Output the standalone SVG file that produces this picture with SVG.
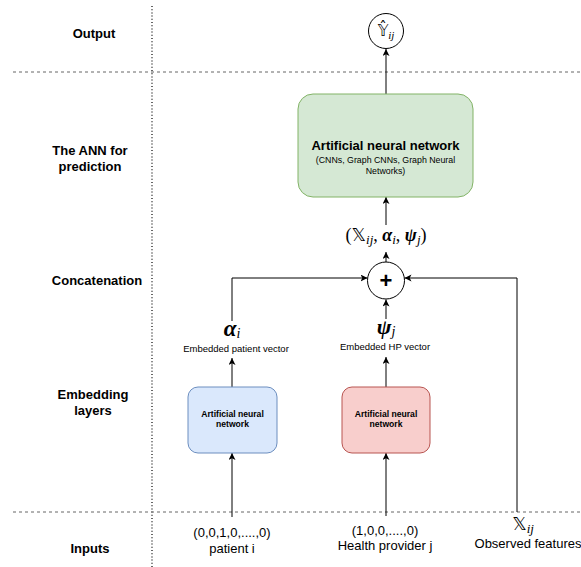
<svg xmlns="http://www.w3.org/2000/svg" width="581" height="567" viewBox="0 0 581 567">
<style>
  .lbl{font-family:"Liberation Sans",Arial,sans-serif;font-weight:bold;font-size:13px;fill:#000;text-anchor:middle}
  .txt{font-family:"Liberation Sans",Arial,sans-serif;fill:#000;text-anchor:middle}
  .math{font-family:"Liberation Serif","DejaVu Serif",serif;fill:#000;text-anchor:middle}
  .ds{font-family:"DejaVu Sans","DejaVu Serif",serif}
  .bi{font-weight:bold;font-style:italic}
  .it{font-style:italic}
  .conn{fill:none;stroke:#000;stroke-width:1}
  .grid-h{stroke:#666;stroke-width:1;stroke-dasharray:3 3}
  .grid-v{stroke:#000;stroke-width:1.2;stroke-dasharray:1 2.2}
</style>
<defs>
  <marker id="arr" markerUnits="userSpaceOnUse" markerWidth="8" markerHeight="8" refX="7" refY="3.5" orient="auto">
    <path d="M0,0 L7,3.5 L0,7 L1.8,3.5 Z" fill="#000"/>
  </marker>
</defs>
<rect width="581" height="567" fill="#fff"/>

<g id="grid">
  <line class="grid-v" x1="152" y1="6" x2="152" y2="567"/>
  <line class="grid-h" x1="13" y1="72" x2="581" y2="72"/>
  <line class="grid-h" x1="13" y1="512" x2="581" y2="512"/>
</g>

<g id="row-labels">
  <text class="lbl" x="94" y="38">Output</text>
  <text class="lbl" x="90" y="155">The ANN for</text>
  <text class="lbl" x="90" y="171">prediction</text>
  <text class="lbl" x="97" y="285">Concatenation</text>
  <text class="lbl" x="93" y="399">Embedding</text>
  <text class="lbl" x="93" y="415">layers</text>
  <text class="lbl" x="90" y="553">Inputs</text>
</g>

<g id="connectors">
  <line class="conn" x1="386" y1="94" x2="386" y2="49" marker-end="url(#arr)"/>
  <line class="conn" x1="386" y1="225" x2="386" y2="197" marker-end="url(#arr)"/>
  <line class="conn" x1="386" y1="262" x2="386" y2="252" marker-end="url(#arr)"/>
  <path class="conn" d="M232,321 V278 H367.5" marker-end="url(#arr)"/>
  <line class="conn" x1="386" y1="319" x2="386" y2="299.5" marker-end="url(#arr)"/>
  <path class="conn" d="M517,512 V278 H404.5" marker-end="url(#arr)"/>
  <line class="conn" x1="232" y1="387" x2="232" y2="358" marker-end="url(#arr)"/>
  <line class="conn" x1="386" y1="387" x2="386" y2="357" marker-end="url(#arr)"/>
  <line class="conn" x1="232" y1="517" x2="232" y2="453" marker-end="url(#arr)"/>
  <line class="conn" x1="386" y1="516" x2="386" y2="453" marker-end="url(#arr)"/>
</g>

<g id="output-node">
  <circle cx="386" cy="31" r="17.5" fill="#fff" stroke="#000" stroke-width="1"/>
  <text class="math" x="386" y="36" font-size="15"><tspan class="ds">𝕐̂</tspan><tspan class="it" font-size="11" dy="3">ij</tspan></text>
</g>

<g id="ann-prediction">
  <rect x="298" y="94" width="175" height="103" rx="15" ry="15" fill="#d5e8d4" stroke="#82b366" stroke-width="1"/>
  <text class="txt" x="385.5" y="150" font-size="13" font-weight="bold">Artificial neural network</text>
  <text class="txt" x="385.5" y="163" font-size="8.8">(CNNs, Graph CNNs, Graph Neural</text>
  <text class="txt" x="385.5" y="174" font-size="8.8">Networks)</text>
</g>

<g id="tuple-label">
  <text class="math" x="386" y="241" font-size="18">(<tspan class="ds">𝕏</tspan><tspan class="it" font-size="13" dy="3">ij</tspan><tspan dy="-3">, </tspan><tspan class="bi">α</tspan><tspan class="it" font-size="13" dy="3">i</tspan><tspan dy="-3">, </tspan><tspan class="bi">ψ</tspan><tspan class="it" font-size="13" dy="3">j</tspan><tspan dy="-3">)</tspan></text>
</g>

<g id="concat-node">
  <circle cx="386" cy="280.5" r="18.5" fill="#fff" stroke="#000" stroke-width="1"/>
  <text class="txt" x="386" y="288" font-size="22" font-weight="bold">+</text>
</g>

<g id="alpha-label">
  <text class="math" x="232" y="336" font-size="23"><tspan class="bi">α</tspan><tspan class="it" font-size="14" dy="2">i</tspan></text>
  <text class="txt" x="236" y="351.5" font-size="9.5">Embedded patient vector</text>
</g>

<g id="psi-label">
  <text class="math" x="386" y="334" font-size="22"><tspan class="bi">ψ</tspan><tspan class="it" font-size="14" dy="2">j</tspan></text>
  <text class="txt" x="385" y="349.5" font-size="9.5">Embedded HP vector</text>
</g>

<g id="patient-ann">
  <rect x="188" y="387" width="89" height="66" rx="10" ry="10" fill="#dae8fc" stroke="#6c8ebf" stroke-width="1"/>
  <text class="txt" x="232.5" y="417" font-size="8.6" font-weight="bold">Artificial neural</text>
  <text class="txt" x="232.5" y="427" font-size="8.6" font-weight="bold">network</text>
</g>

<g id="hp-ann">
  <rect x="342" y="387" width="88" height="66" rx="10" ry="10" fill="#f8cecc" stroke="#b85450" stroke-width="1"/>
  <text class="txt" x="386" y="417" font-size="8.6" font-weight="bold">Artificial neural</text>
  <text class="txt" x="386" y="427" font-size="8.6" font-weight="bold">network</text>
</g>

<g id="input-patient">
  <text class="txt" x="232" y="537" font-size="13">(0,0,1,0,....,0)</text>
  <text class="txt" x="232" y="553" font-size="13">patient i</text>
</g>

<g id="input-hp">
  <text class="txt" x="385" y="535" font-size="13">(1,0,0,....,0)</text>
  <text class="txt" x="385" y="550" font-size="13">Health provider j</text>
</g>

<g id="input-features">
  <text class="math" x="523" y="530" font-size="18"><tspan class="ds">𝕏</tspan><tspan class="it" font-size="13" dy="3">ij</tspan></text>
  <text class="txt" x="528" y="548" font-size="13">Observed features</text>
</g>
</svg>
